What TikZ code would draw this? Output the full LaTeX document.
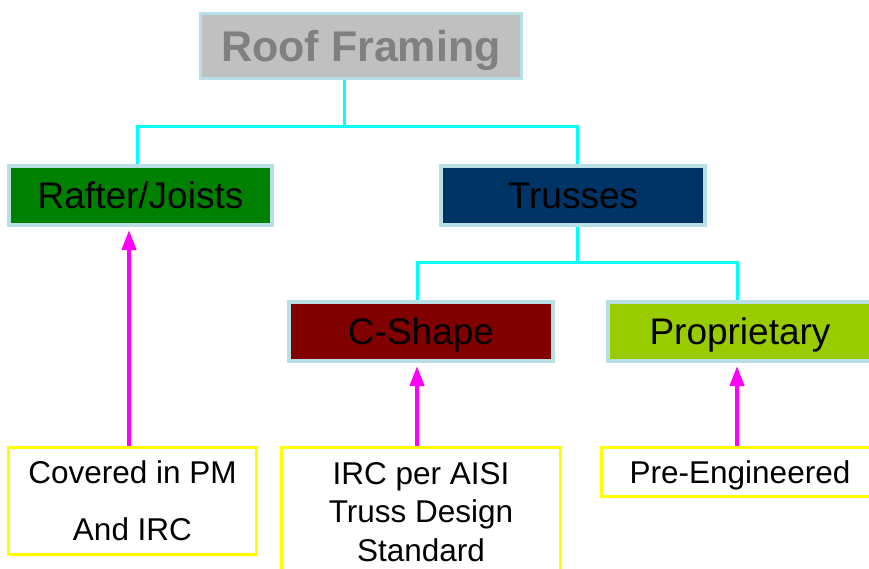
\documentclass[tikz,border=0pt]{standalone}
\usepackage{fontspec}
\setmainfont{Liberation Sans}
\usetikzlibrary{arrows.meta}
\definecolor{edgeblue}{HTML}{B8DFE3}
\definecolor{roofgray}{HTML}{C0C0C0}
\definecolor{rooftext}{HTML}{808080}
\definecolor{rgreen}{HTML}{008000}
\definecolor{tnavy}{HTML}{003366}
\definecolor{cmaroon}{HTML}{800000}
\definecolor{plime}{HTML}{99CC00}
\definecolor{conncyan}{HTML}{00FFFF}
\definecolor{arrmag}{HTML}{FF00FF}
\definecolor{noteyellow}{HTML}{FFFF00}
\tikzset{
  catbox/.style={draw=edgeblue, line width=4pt, inner sep=0pt, text=black,
    font=\fontsize{37}{44}\selectfont, text height=26.5pt, text depth=0pt,
    minimum width=263pt, minimum height=59pt},
  notebox/.style={draw=noteyellow, fill=white, line width=3pt, inner sep=0pt, text=black, align=center},
  conn/.style={draw=conncyan, line width=3pt},
  uparrow/.style={draw=arrmag, line width=4pt, -{Triangle[width=14pt,length=20pt]}, shorten >=3pt}
}
\begin{document}
\begin{tikzpicture}[x=1pt,y=-1pt]
\useasboundingbox (0,0) rectangle (869,568);
\fill[white] (0,0) rectangle (869,568);
% top
\node[draw=edgeblue, fill=roofgray, line width=3pt, inner sep=0pt, minimum width=321pt, minimum height=65pt,
  text=rooftext, font=\fontsize{43}{50}\selectfont\bfseries, text height=31pt, text depth=0pt] (roof) at (361,46) {Roof Framing};
% level 2
\node[catbox, fill=rgreen] (raft) at (140.5,195.5) {Rafter/Joists};
\node[catbox, fill=tnavy, minimum width=264pt] (truss) at (573,195.5) {Trusses};
% level 3
\node[catbox, fill=cmaroon, minimum width=264pt] (cshape) at (421,331.5) {C-Shape};
\node[catbox, fill=plime, minimum width=264pt] (prop) at (740,331.5) {Proprietary};
% notes
\node[notebox, minimum width=248pt, minimum height=107pt, font=\fontsize{31.5}{57}\selectfont] (cov) at (132.5,501) {Covered in PM\\And IRC};
\node[notebox, minimum width=279pt, minimum height=129pt, font=\fontsize{31.5}{38.5}\selectfont] (irc) at (421,512) {IRC per AISI\\Truss Design\\Standard};
\node[notebox, minimum width=277pt, minimum height=49pt, font=\fontsize{31.5}{36}\selectfont, text height=22.7pt, text depth=0pt] (pre) at (740,472) {Pre-Engineered};
% connector coordinates
\coordinate (b1) at (344,126);
\coordinate (bl) at (137,126);
\coordinate (br) at (577,126);
\coordinate (b2) at (577,262);
\coordinate (b2l) at (417,262);
\coordinate (b2r) at (737,262);
\draw[conn] (roof.south -| b1) -- (b1);
\draw[conn] (raft.north -| bl) -- (bl) -- (br) -- (truss.north -| br);
\draw[conn] (truss.south -| b2) -- (b2);
\draw[conn] (cshape.north -| b2l) -- (b2l) -- (b2r) -- (prop.north -| b2r);
% arrows
\coordinate (a1) at (129,0);
\coordinate (a2) at (417,0);
\coordinate (a3) at (737,0);
\draw[uparrow] (cov.north -| a1) -- (raft.south -| a1);
\draw[uparrow] (irc.north -| a2) -- (cshape.south -| a2);
\draw[uparrow] (pre.north -| a3) -- (prop.south -| a3);
\end{tikzpicture}
\end{document}
